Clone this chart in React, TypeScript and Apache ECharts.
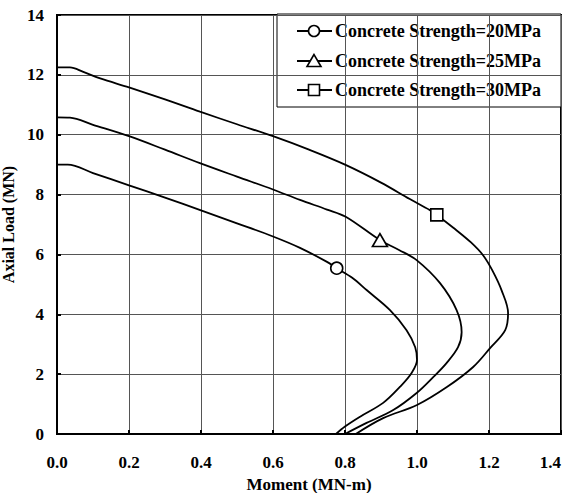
import React, { useEffect, useRef } from "react";
import * as echarts from "echarts";

// Moment (MN-m) and Axial Load (MN) for each concrete strength
const moment20 = [0, 0.03, 0.1, 0.2, 0.3, 0.4, 0.5, 0.6, 0.675, 0.75, 0.777, 0.82, 0.86, 0.925, 0.971, 0.995, 1.0, 0.985, 0.953, 0.906, 0.842, 0.8, 0.775];
const axial20 = [9.0, 9.0, 8.72, 8.31, 7.9, 7.47, 7.04, 6.6, 6.22, 5.75, 5.54, 5.22, 4.81, 4.14, 3.47, 2.9, 2.47, 2.04, 1.58, 1.04, 0.58, 0.25, 0.0];
const marker20 = 10;

const moment25 = [0, 0.036, 0.1, 0.2, 0.3, 0.397, 0.5, 0.6, 0.675, 0.75, 0.802, 0.897, 0.95, 0.999, 1.064, 1.11, 1.124, 1.114, 1.082, 1.045, 0.999, 0.934, 0.86, 0.8];
const axial25 = [10.58, 10.57, 10.33, 9.95, 9.5, 9.05, 8.6, 8.17, 7.82, 7.5, 7.26, 6.48, 6.15, 5.81, 5.04, 4.14, 3.4, 2.9, 2.37, 1.9, 1.37, 0.8, 0.37, 0.0];
const marker25 = 11;

const moment30 = [0, 0.036, 0.073, 0.12, 0.2, 0.3, 0.397, 0.5, 0.6, 0.7, 0.8, 0.9, 0.98, 1.036, 1.055, 1.1, 1.15, 1.185, 1.21, 1.235, 1.253, 1.245, 1.203, 1.156, 1.083, 1.0, 0.906, 0.83];
const axial30 = [12.25, 12.25, 12.1, 11.88, 11.58, 11.18, 10.77, 10.35, 9.95, 9.5, 9.0, 8.4, 7.85, 7.48, 7.32, 6.9, 6.4, 5.95, 5.45, 4.8, 4.04, 3.47, 2.87, 2.24, 1.57, 0.97, 0.53, 0.0];
const marker30 = 14;

const seriesNames = ["Concrete Strength=20MPa", "Concrete Strength=25MPa", "Concrete Strength=30MPa"];
const seriesSymbols = ["circle", "triangle", "rect"];
const xTicks = [0, 0.2, 0.4, 0.6, 0.8, 1.0, 1.2, 1.4];
const yTicks = [0, 2, 4, 6, 8, 10, 12, 14];

const FONT = "'Liberation Serif', 'Times New Roman', serif";

const symbolSizes: Record<string, number | number[]> = {
  circle: 12,
  triangle: [15, 13],
  rect: 12,
};

function buildSeries(name: string, xs: number[], ys: number[], markerIdx: number, symbol: string) {
  const data = xs.map((x, i) => {
    if (i === markerIdx) {
      return {
        value: [x, ys[i]],
        symbol,
        symbolSize: symbolSizes[symbol],
        itemStyle: { color: "#fff", borderColor: "#000", borderWidth: 1.6 },
      };
    }
    return { value: [x, ys[i]], symbol: "none" };
  });
  return {
    name,
    type: "line",
    data,
    showSymbol: true,
    symbol: "none",
    smooth: 0.35,
    lineStyle: { color: "#000", width: 1.8 },
    itemStyle: { color: "#000" },
    z: 3,
  };
}

function legendGraphic() {
  const left = 277;
  const top = 14;
  const rowY = [31, 61, 90];
  const children: any[] = [
    {
      type: "rect",
      shape: { x: left, y: top, width: 284, height: 93 },
      style: { fill: "#fff", stroke: "#000", lineWidth: 1 },
    },
  ];
  seriesNames.forEach((name, i) => {
    const y = rowY[i];
    children.push({
      type: "line",
      shape: { x1: 297, y1: y, x2: 332, y2: y },
      style: { stroke: "#000", lineWidth: 2 },
    });
    const s = seriesSymbols[i];
    if (s === "circle") {
      children.push({ type: "circle", shape: { cx: 314, cy: y, r: 5.5 }, style: { fill: "#fff", stroke: "#000", lineWidth: 1.6 } });
    } else if (s === "triangle") {
      children.push({
        type: "polygon",
        shape: { points: [[314, y - 6.5], [307, y + 5.5], [321, y + 5.5]] },
        style: { fill: "#fff", stroke: "#000", lineWidth: 1.6 },
      });
    } else {
      children.push({ type: "rect", shape: { x: 308.5, y: y - 5.5, width: 11, height: 11 }, style: { fill: "#fff", stroke: "#000", lineWidth: 1.6 } });
    }
    children.push({
      type: "text",
      x: 335,
      y,
      style: {
        text: name,
        fill: "#000",
        font: `bold 18px ${FONT}`,
        verticalAlign: "middle",
        align: "left",
      },
    });
  });
  return [{ type: "group", z: 100, children }];
}

export default function App() {
  const ref = useRef<HTMLDivElement>(null);
  useEffect(() => {
    if (!ref.current) return;
    const chart = echarts.init(ref.current, undefined, { renderer: "svg" });
    chart.setOption({
      animation: false,
      backgroundColor: "#fff",
      grid: {
        left: 57,
        top: 15,
        right: 9,
        bottom: 59,
        containLabel: false,
        outerBoundsMode: "none",
        show: true,
        borderColor: "#000",
        borderWidth: 2,
        backgroundColor: "transparent",
      },
      xAxis: {
        type: "value",
        min: xTicks[0],
        max: xTicks[xTicks.length - 1],
        interval: 0.2,
        name: "Moment (MN-m)",
        nameLocation: "middle",
        nameGap: 40,
        nameTextStyle: { fontFamily: FONT, fontWeight: "bold", fontSize: 17, color: "#000" },
        axisLine: { show: true, lineStyle: { color: "#000", width: 2 } },
        axisTick: { show: true, inside: true, length: 4, lineStyle: { color: "#000", width: 2 } },
        axisLabel: {
          margin: 20,
          fontFamily: FONT,
          fontWeight: "bold",
          fontSize: 17,
          color: "#000",
          alignMaxLabel: "right",
          formatter: (v: number) => v.toFixed(1),
        },
        splitLine: { show: true, lineStyle: { color: "#555", width: 1 } },
      },
      yAxis: {
        type: "value",
        min: yTicks[0],
        max: yTicks[yTicks.length - 1],
        interval: 2,
        name: "Axial Load (MN)",
        nameLocation: "middle",
        nameGap: 33,
        nameTextStyle: { fontFamily: FONT, fontWeight: "bold", fontSize: 16, color: "#000" },
        axisLine: { show: true, lineStyle: { color: "#000", width: 2 } },
        axisTick: { show: true, inside: true, length: 4, lineStyle: { color: "#000", width: 2 } },
        axisLabel: {
          margin: 13,
          fontFamily: FONT,
          fontWeight: "bold",
          fontSize: 17,
          color: "#000",
        },
        splitLine: { show: true, lineStyle: { color: "#555", width: 1 } },
      },
      series: [
        buildSeries(seriesNames[0], moment20, axial20, marker20, seriesSymbols[0]),
        buildSeries(seriesNames[1], moment25, axial25, marker25, seriesSymbols[1]),
        buildSeries(seriesNames[2], moment30, axial30, marker30, seriesSymbols[2]),
      ],
      graphic: legendGraphic(),
    });
    return () => chart.dispose();
  }, []);
  return (
    <div
      ref={ref}
      style={{ position: "fixed", left: 0, top: 0, width: 570, height: 493, background: "#fff" }}
    />
  );
}
